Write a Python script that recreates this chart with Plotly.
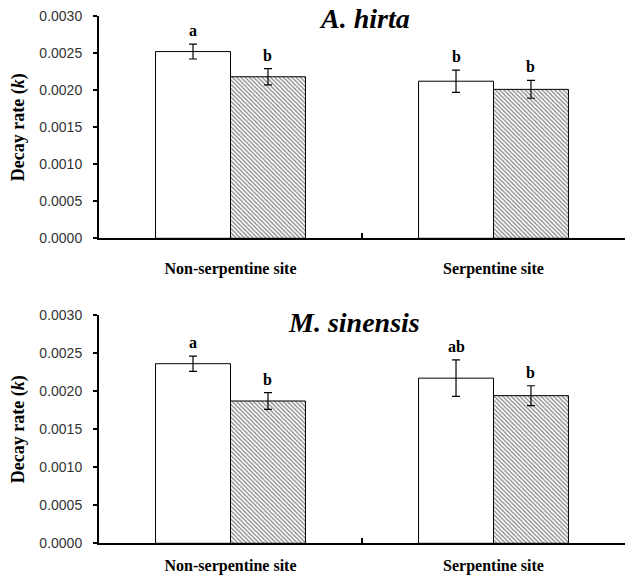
import plotly.graph_objects as go
from plotly.subplots import make_subplots

sites = ["Non-serpentine site", "Serpentine site"]
species = ["A. hirta", "M. sinensis"]

# white bars (first series) and hatched bars (second series) per species
white_vals = [[0.00252, 0.00212], [0.00236, 0.00217]]
white_err = [[0.00010, 0.00015], [0.00010, 0.00024]]
hatch_vals = [[0.00218, 0.00201], [0.00187, 0.00194]]
hatch_err = [[0.00011, 0.00012], [0.00011, 0.00013]]
white_letters = [["a", "b"], ["a", "ab"]]
hatch_letters = [["b", "b"], ["b", "b"]]

y_ticks = [0.0, 0.0005, 0.0010, 0.0015, 0.0020, 0.0025, 0.0030]

W, H = 634, 576
BARGAP = 0.43
barw = (1 - BARGAP) / 2

serif = "Times New Roman, Liberation Serif, DejaVu Serif, serif"

fig = make_subplots(rows=2, cols=1)

for r in range(2):
    row = r + 1
    fig.add_trace(go.Bar(
        x=sites, y=white_vals[r], offsetgroup="w",
        marker=dict(color="white", line=dict(color="black", width=1)),
        error_y=dict(type="data", array=white_err[r], color="black", thickness=1.2, width=4),
        showlegend=False), row=row, col=1)
    fig.add_trace(go.Bar(
        x=sites, y=hatch_vals[r], offsetgroup="h",
        marker=dict(color="white", line=dict(color="black", width=1),
                    pattern=dict(shape="\\", fgcolor="black", bgcolor="white", size=3, solidity=0.4)),
        error_y=dict(type="data", array=hatch_err[r], color="black", thickness=1.2, width=4),
        showlegend=False), row=row, col=1)

# domains (pixel-derived)
top_dom = [1 - 238.3 / H, 1 - 16 / H]
bot_dom = [1 - 543.3 / H, 1 - 315 / H]

axis_common_y = dict(
    range=[0, 0.003], tickvals=y_ticks, tickformat=".4f",
    showline=True, linecolor="black", linewidth=2,
    ticks="outside", ticklen=4, tickwidth=1.5, tickcolor="black",
    showgrid=False, zeroline=False,
    tickfont=dict(family="Liberation Sans", size=14, color="#333"),
    ticklabelstandoff=8, automargin=False,
)
axis_common_x = dict(
    showline=True, linecolor="black", linewidth=2,
    ticks="inside", tickson="boundaries", ticklen=5, tickwidth=1.5, tickcolor="black",
    showgrid=False, zeroline=False,
    tickfont=dict(family=serif, size=16, color="black", weight="bold"),
    automargin=False,
)

fig.update_layout(
    yaxis=dict(domain=top_dom, **axis_common_y),
    yaxis2=dict(domain=bot_dom, **axis_common_y),
    xaxis=dict(domain=[0, 1], ticklabelstandoff=14, **axis_common_x),
    xaxis2=dict(domain=[0, 1], ticklabelstandoff=6, **axis_common_x),
)

annotations = []
for r in range(2):
    xref = "x" if r == 0 else "x2"
    yref = "y" if r == 0 else "y2"
    for i in range(2):
        annotations.append(dict(
            x=i - barw / 2, y=white_vals[r][i] + white_err[r][i], xref=xref, yref=yref,
            text="<b>%s</b>" % white_letters[r][i], showarrow=False,
            yanchor="bottom", yshift=3, font=dict(family=serif, size=16, color="black")))
        annotations.append(dict(
            x=i + barw / 2, y=hatch_vals[r][i] + hatch_err[r][i], xref=xref, yref=yref,
            text="<b>%s</b>" % hatch_letters[r][i], showarrow=False,
            yanchor="bottom", yshift=3, font=dict(family=serif, size=16, color="black")))

# species titles
title_pos = [(0.5057, 1 - 18 / H), (0.484, 1 - 322 / H)]
for r in range(2):
    annotations.append(dict(
        x=title_pos[r][0], y=title_pos[r][1], xref="paper", yref="paper",
        text="<b><i>%s</i></b>" % species[r], showarrow=False,
        xanchor="center", yanchor="middle",
        font=dict(family=serif, size=28, color="black")))

# y axis titles
ytitle_y = [(top_dom[0] + top_dom[1]) / 2, (bot_dom[0] + bot_dom[1]) / 2]
for r in range(2):
    annotations.append(dict(
        x=(18 - 99) / (W - 99 - 9), y=ytitle_y[r], xref="paper", yref="paper",
        text="<b>Decay rate (<i>k</i>)</b>", showarrow=False, textangle=-90,
        xanchor="center", yanchor="middle",
        font=dict(family=serif, size=18, color="black")))

fig.update_layout(
    annotations=annotations,
    barmode="group", bargap=BARGAP, bargroupgap=0,
    width=W, height=H,
    margin=dict(l=99, r=9, t=0, b=0),
    paper_bgcolor="white", plot_bgcolor="white",
    showlegend=False,
)

fig.write_html("out.html")
